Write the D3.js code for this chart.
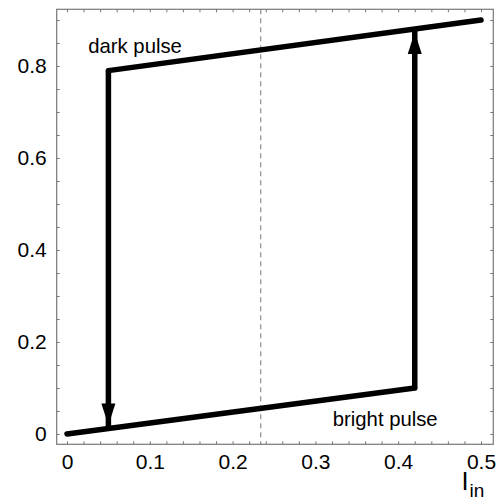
<!DOCTYPE html>
<html><head><meta charset="utf-8">
<script src="https://cdn.jsdelivr.net/npm/d3@7"></script>
<style>body{margin:0;background:#fff}svg{display:block}</style>
</head><body>
<script>
// data
const brightBranch = [[0, 0], [0.42, 0.1]];
const darkBranch = [[0.05, 0.79], [0.5, 0.9]];
const downJumpX = 0.05;
const upJumpX = 0.42;
const dashedX = 0.234;
const xTicks = [0, 0.1, 0.2, 0.3, 0.4, 0.5];
const yTicks = [0, 0.2, 0.4, 0.6, 0.8];
const xMinorStep = 0.02;
const yMinorStep = 0.05;
const labels = [{text: "dark pulse", x: 0.0257, y: 0.829}, {text: "bright pulse", x: 0.321, y: 0.0165}];

const W = 499, H = 499;
const FONT = "Arial, 'Liberation Sans', sans-serif";
const svg = d3.select("body").append("svg").attr("width", W).attr("height", H);
const x = d3.scaleLinear().domain([0, 0.5]).range([67, 481]);
const y = d3.scaleLinear().domain([0, 0.8]).range([434, 66]);
const xDom = [x.invert(56.7), x.invert(493.3)];
const yDom = [y.invert(444.3), y.invert(9.3)];
const L = x(xDom[0]), R = x(xDom[1]), T = y(yDom[1]), B = y(yDom[0]);

const minorX = d3.range(0, xDom[1] + 1e-9, xMinorStep);
const minorY = d3.range(0, yDom[1] + 1e-9, yMinorStep);
const tickCol = "#777";
const fmt = d => d === 0 ? "0" : d3.format(".1f")(d);

// ticks
const styleTicks = g => { g.select(".domain").remove(); g.selectAll("line").attr("stroke", tickCol); };
svg.append("g").attr("transform", `translate(0,${B})`)
  .call(d3.axisBottom(x).tickValues(minorX).tickSize(-3).tickFormat("")).call(styleTicks);
svg.append("g").attr("transform", `translate(0,${T})`)
  .call(d3.axisTop(x).tickValues(minorX).tickSize(-3).tickFormat("")).call(styleTicks);
svg.append("g").attr("transform", `translate(${L},0)`)
  .call(d3.axisLeft(y).tickValues(minorY).tickSize(-3).tickFormat("")).call(styleTicks);
svg.append("g").attr("transform", `translate(${R},0)`)
  .call(d3.axisRight(y).tickValues(minorY).tickSize(-3).tickFormat("")).call(styleTicks);

// tick labels
svg.append("g").attr("transform", `translate(0,${B})`)
  .call(d3.axisBottom(x).tickValues(xTicks).tickSize(0).tickFormat(fmt))
  .call(g => { g.select(".domain").remove();
    g.selectAll("text").attr("font-family", FONT).attr("font-size", 21).attr("fill", "#000")
      .attr("dy", null).attr("y", 469.5 - B); });
svg.append("g").attr("transform", `translate(${L},0)`)
  .call(d3.axisLeft(y).tickValues(yTicks).tickSize(0).tickPadding(10).tickFormat(fmt))
  .call(g => { g.select(".domain").remove();
    g.selectAll("text").attr("font-family", FONT).attr("font-size", 21).attr("fill", "#000")
      .attr("dy", null).attr("y", 6.8); });

// frame
svg.append("rect").attr("x", L).attr("y", T).attr("width", R - L).attr("height", B - T)
  .attr("fill", "none").attr("stroke", tickCol).attr("stroke-width", 1.2);

// dashed line
svg.append("line").attr("x1", x(dashedX)).attr("x2", x(dashedX)).attr("y1", T).attr("y2", B)
  .attr("stroke", "#777").attr("stroke-width", 1).attr("stroke-dasharray", "5,4");

const line = d3.line().x(d => x(d[0])).y(d => y(d[1]));
const interp = (br, xv) => br[0][1] + (br[1][1] - br[0][1]) * (xv - br[0][0]) / (br[1][0] - br[0][0]);

const downBottom = interp(brightBranch, downJumpX);
const upTop = interp(darkBranch, upJumpX);

const thick = p => p.attr("stroke", "#000").attr("stroke-width", 5.5).attr("fill", "none");
svg.append("path").attr("d", line(brightBranch)).call(thick).attr("stroke-linecap", "round");
svg.append("path").attr("d", line(darkBranch)).call(thick).attr("stroke-linecap", "round");
svg.append("path").attr("d", line([[downJumpX, darkBranch[0][1]], [downJumpX, downBottom]])).call(thick);
svg.append("path").attr("d", line([[upJumpX, brightBranch[1][1]], [upJumpX, upTop]])).call(thick);

// arrowheads
function head(xv, yv, dir) {
  const px = x(xv), py = y(yv) - dir * 3; // tip
  const len = 22, hw = 7;
  const by = py - dir * len;
  return `M${px},${py}L${px - hw},${by}L${px + hw},${by}Z`;
}
svg.append("path").attr("d", head(downJumpX, downBottom, 1)).attr("fill", "#000");
svg.append("path").attr("d", head(upJumpX, upTop, -1)).attr("fill", "#000");

// labels
svg.selectAll("text.lbl").data(labels).join("text").attr("class", "lbl")
  .attr("x", d => x(d.x)).attr("y", d => y(d.y))
  .attr("font-family", FONT).attr("font-size", 20.3).attr("fill", "#000")
  .text(d => d.text);

// axis label I_in
const ax = svg.append("text").attr("x", 461.5).attr("y", 490)
  .attr("font-family", FONT).attr("fill", "#000");
ax.append("tspan").attr("font-size", 25.5).text("I");
ax.append("tspan").attr("font-size", 19).attr("dx", 1).attr("dy", 6.5).text("in");
</script>
</body></html>
